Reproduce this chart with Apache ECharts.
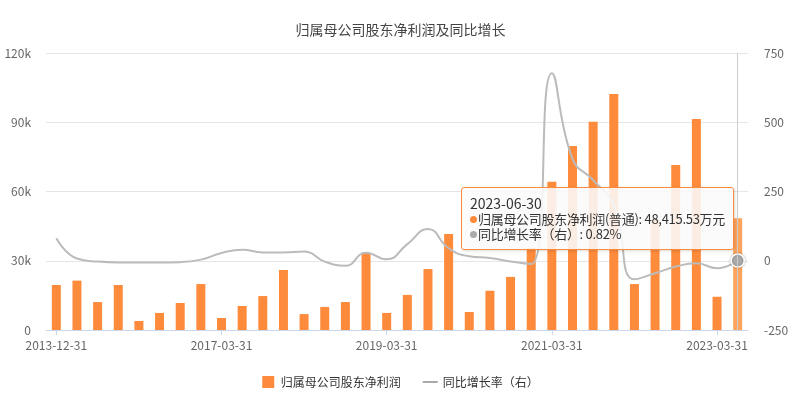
<!DOCTYPE html>
<html>
<head>
<meta charset="utf-8">
<script src="https://cdn.jsdelivr.net/npm/echarts@6/dist/echarts.min.js"></script>
<style>
html,body{margin:0;padding:0;background:#fff;}
#chart{width:801px;height:395px;}
</style>
</head>
<body>
<div id="chart"></div>
<script>
var dates = ['2013-12-31','2014-12-31','2015-06-30','2015-12-31','2016-03-31','2016-06-30','2016-09-30','2016-12-31',
  '2017-03-31','2017-06-30','2017-09-30','2017-12-31','2018-03-31','2018-06-30','2018-09-30','2018-12-31',
  '2019-03-31','2019-06-30','2019-09-30','2019-12-31','2020-03-31','2020-06-30','2020-09-30','2020-12-31',
  '2021-03-31','2021-06-30','2021-09-30','2021-12-31','2022-03-31','2022-06-30','2022-09-30','2022-12-31',
  '2023-03-31','2023-06-30'];
var profit = [19500,21400,12100,19500,3900,7400,11700,19900,
  5200,10400,14700,26000,6900,10000,12100,33500,
  7400,15200,26400,41600,7800,17000,23000,35500,
  64200,79700,90200,102200,19900,48000,71500,91400,
  14400,48415.53];
var growth = [81,8,-3,-6,-6,-6,-5,4,
  28,40,30,30,33,-3,-18,29,
  5,60,115,45,16,10,-3,-12,
  677,368,291,200,-67,-45,-21,-9,
  -27,0.82];
var leftTicks = {min:0, max:120000, interval:30000};
var rightTicks = {min:-250, max:750, interval:250};
var barName = '归属母公司股东净利润(普通)';
var barLegend = '归属母公司股东净利润';
var lineName = '同比增长率（右）';
var titleText = '归属母公司股东净利润及同比增长';

var FONT = '"Noto Sans CJK SC", "Noto Sans", sans-serif';
var BAR = '#fd8b3b';
var LINE = '#aaaaaa';

var chart = echarts.init(document.getElementById('chart'));
function fmt2(v){
  var s = v.toFixed(2).split('.');
  return s[0].replace(/\B(?=(\d{3})+(?!\d))/g, ',') + '.' + s[1];
}
var option = {
  animation: false,
  textStyle: {fontFamily: FONT},
  title: {
    text: titleText, left: 'center', top: 18,
    textStyle: {fontSize: 14, fontWeight: 'normal', color: '#444', fontFamily: FONT}
  },
  grid: {left: 46, right: 53, top: 53, bottom: 65, containLabel: false},
  legend: {
    left: 'center', top: 371, itemWidth: 15, itemHeight: 12, itemGap: 22,
    textStyle: {fontSize: 12, color: '#333', fontFamily: FONT},
    formatter: function(n){ return n === barName ? barLegend : n; },
    data: [
      {name: barName, icon: 'path://M0,0L12,0L12,12L0,12Z', itemStyle: {borderWidth: 0}},
      {name: lineName, icon: 'path://M0,0L15,0L15,2L0,2Z', itemStyle: {color: LINE, borderWidth: 0}}
    ]
  },
  tooltip: {
    trigger: 'axis',
    alwaysShowContent: true,
    triggerOn: 'none',
    transitionDuration: 0,
    position: [461, 187],
    backgroundColor: 'rgba(250,250,250,0.88)',
    borderColor: BAR, borderWidth: 1, borderRadius: 3,
    padding: [8, 8, 8, 8],
    extraCssText: 'box-shadow:1px 1px 3px rgba(0,0,0,0.15);',
    axisPointer: {type: 'line', lineStyle: {color: '#cccccc', width: 1, type: 'solid'}},
    formatter: function(params){
      var d = params[0].axisValue;
      var h = '<div style="font-family:' + FONT.replace(/"/g,"'") + ';font-size:13px;line-height:15px;color:#333;letter-spacing:-0.3px;">' +
        '<span style="font-size:14px;letter-spacing:0;">' + d + '</span>';
      params.forEach(function(p){
        var dot = '<span style="display:inline-block;width:7px;height:7px;border-radius:50%;background:' + p.color + ';margin-right:1px;vertical-align:1px;"></span>';
        if (p.seriesName === barName) {
          h += '<br/>' + dot + p.seriesName + ': ' + fmt2(p.value) + '万元';
        } else {
          h += '<br/>' + dot + p.seriesName + ': ' + p.value + '%';
        }
      });
      return h + '</div>';
    }
  },
  xAxis: {
    type: 'category', data: dates, boundaryGap: true,
    axisLine: {lineStyle: {color: '#ccd6eb'}},
    axisTick: {show: true, alignWithLabel: true, interval: 7, length: 5, lineStyle: {color: '#ccd6eb'}},
    axisLabel: {interval: 7, color: '#666', fontSize: 12, margin: 9, fontFamily: FONT}
  },
  yAxis: [
    {
      type: 'value', min: leftTicks.min, max: leftTicks.max, interval: leftTicks.interval,
      axisLine: {show: false}, axisTick: {show: false},
      splitLine: {lineStyle: {color: '#e6e6e6'}},
      axisLabel: {color: '#666', fontSize: 12, margin: 15, fontFamily: FONT,
        formatter: function(v){ return v === 0 ? '0' : (v/1000) + 'k'; }}
    },
    {
      type: 'value', min: rightTicks.min, max: rightTicks.max, interval: rightTicks.interval,
      axisLine: {show: false}, axisTick: {show: false}, splitLine: {show: false},
      axisLabel: {color: '#666', fontSize: 12, margin: 16, fontFamily: FONT}
    }
  ],
  series: [
    {
      name: barName, type: 'bar', yAxisIndex: 0, data: profit, barWidth: 9,
      itemStyle: {color: BAR},
      emphasis: {itemStyle: {color: '#ffa45c'}}
    },
    {
      name: lineName, type: 'line', yAxisIndex: 1, data: growth, smooth: true,
      showSymbol: false, symbol: 'circle', symbolSize: 11,
      itemStyle: {color: LINE, borderColor: '#fff', borderWidth: 1.5},
      lineStyle: {color: LINE, width: 2},
      emphasis: {scale: 1.2, itemStyle: {shadowBlur: 3, shadowColor: 'rgba(0,0,0,0.25)'}}
    }
  ]
};
chart.setOption(option);
chart.dispatchAction({type: 'showTip', seriesIndex: 0, dataIndex: dates.length - 1});
</script>
</body>
</html>
